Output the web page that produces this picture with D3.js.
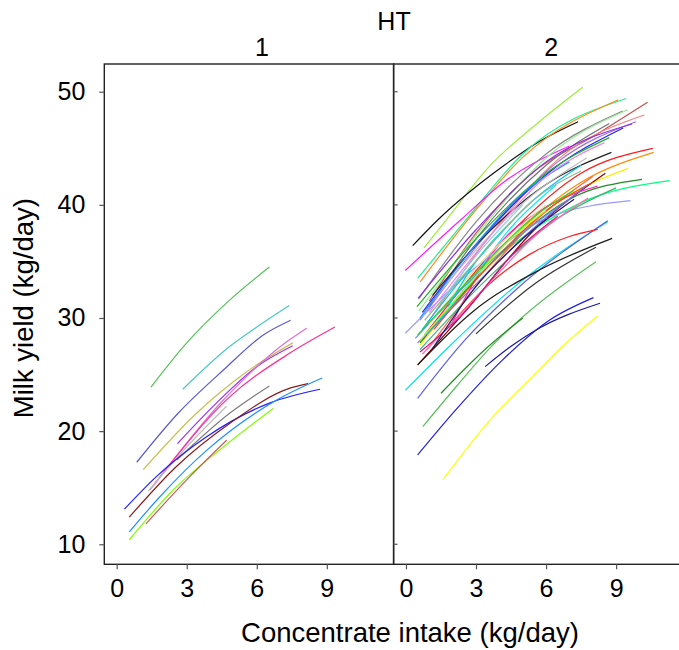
<!DOCTYPE html>
<html>
<head>
<meta charset="utf-8">
<script src="https://cdn.jsdelivr.net/npm/d3@7"></script>
<style>
  html, body { margin: 0; padding: 0; background: #fff; overflow: hidden; }
  svg { display: block; font-family: "Liberation Sans", Arial, Helvetica, sans-serif; }
</style>
</head>
<body>
<div id="chart"></div>
<script>
"use strict";

const panelNames = ["1", "2"];
const xTicks = [0, 3, 6, 9];
const yTicks = [10, 20, 30, 40, 50];

// HT = 1 : one curve per cow, [concentrate, yield]
const curves1 = [
    [[1.47, 23.9], [3.0, 27.8], [4.85, 31.6], [6.54, 34.5]],
    [[2.83, 23.7], [4.85, 27.5], [6.0, 29.2], [7.39, 31.1]],
    [[0.86, 17.25], [2.64, 21.6], [4.57, 25.4], [6.28, 28.5], [7.45, 29.8]],
    [[1.14, 16.6], [3.43, 21.6], [5.57, 25.25], [7.54, 27.8]],
    [[2.6, 18.9], [4.28, 22.5], [6.0, 25.7], [7.54, 27.55]],
    [[1.43, 14.8], [4.57, 22.75], [7.28, 27.9], [8.14, 29.1]],
    [[1.57, 15.2], [4.85, 23.05], [7.42, 26.9], [9.35, 29.2]],
    [[2.57, 17.45], [4.85, 21.6], [6.54, 24.0]],
    [[1.35, 14.7], [3.0, 18.6], [4.71, 22.2]],
    [[0.33, 13.1], [1.71, 16.0], [3.85, 19.5], [6.57, 22.5], [8.71, 23.7]],
    [[0.54, 12.4], [2.57, 16.9], [4.85, 20.7], [7.42, 23.8], [8.2, 24.2]],
    [[0.54, 11.1], [1.85, 14.2], [3.85, 18.3], [6.85, 22.75], [8.8, 24.7]],
    [[0.54, 10.4], [2.42, 14.8], [4.57, 18.6], [6.71, 22.0]],
    [[1.25, 11.8], [3.14, 16.0], [4.71, 19.2]]
];
const colors1 = [
    "#55c155", "#48c8c8", "#5a5acd", "#c8bf4c", "#9b30ff", "#da70d6", "#ff2f8f",
    "#7f7f7f", "#bebebe", "#1f1fff", "#8b1a1a", "#1e90ff", "#7fff00", "#cd5c5c"
];

// HT = 2
const curves2 = [
    [[0.77, 36.2], [1.72, 38.66], [3.57, 43.4], [5.71, 47.35], [7.57, 50.4]],
    [[0.29, 36.4], [1.36, 38.66], [4.21, 43.5], [5.71, 45.6], [7.37, 47.35]],
    [[0.5, 33.5], [2.5, 38.5], [5.0, 44.5], [9.43, 49.4]],
    [[0.61, 33.2], [2.5, 38.3], [5.0, 44.2], [9.08, 49.27]],
    [[-0.03, 34.2], [2.36, 38.7], [4.21, 42.05], [7.0, 45.2]],
    [[0.55, 31.7], [3.0, 38.5], [6.0, 44.5], [9.28, 48.3]],
    [[1.0, 31.5], [3.0, 37.5], [5.28, 42.6], [8.14, 46.2], [10.35, 49.06]],
    [[0.9, 29.5], [3.5, 37.0], [6.5, 44.0], [10.21, 47.94]],
    [[0.55, 30.6], [3.2, 37.8], [6.2, 44.5], [9.5, 48.4]],
    [[0.6, 29.8], [3.5, 37.5], [6.5, 43.8], [9.85, 47.35]],
    [[1.0, 31.0], [3.0, 37.0], [6.0, 43.5], [8.71, 47.2]],
    [[0.52, 31.74], [3.0, 37.8], [6.0, 43.8], [9.68, 47.15]],
    [[0.7, 30.5], [3.2, 37.0], [6.2, 43.0], [9.3, 46.8]],
    [[0.47, 31.0], [3.0, 37.0], [6.0, 42.8], [8.71, 45.94]],
    [[0.8, 28.5], [4.0, 36.5], [7.5, 42.8], [10.57, 45.0]],
    [[1.14, 32.0], [3.5, 37.5], [6.0, 41.8], [8.8, 44.64]],
    [[0.7, 28.0], [4.0, 36.0], [7.5, 42.0], [10.61, 44.64]],
    [[1.0, 31.15], [3.0, 36.0], [5.5, 41.0], [7.74, 44.14]],
    [[0.6, 27.6], [3.5, 34.5], [6.5, 40.2], [9.51, 43.23]],
    [[0.5, 25.85], [2.5, 30.5], [5.5, 37.8], [8.54, 42.79]],
    [[0.6, 27.8], [3.5, 34.5], [7.0, 40.5], [10.11, 42.26]],
    [[0.8, 28.5], [4.0, 35.5], [7.5, 40.2], [11.28, 42.14]],
    [[0.9, 28.5], [2.5, 32.5], [4.5, 38.0], [6.43, 41.75]],
    [[1.93, 29.4], [3.79, 36.0], [6.0, 39.8], [8.21, 41.67]],
    [[-0.03, 28.65], [3.0, 34.5], [6.0, 38.8], [9.61, 40.37]],
    [[-0.03, 23.6], [2.14, 28.06], [5.0, 33.36], [8.64, 38.5]],
    [[0.5, 22.9], [2.5, 28.0], [4.71, 32.5], [8.64, 38.6]],
    [[1.86, 29.3], [3.57, 33.0], [5.28, 35.6], [7.0, 37.2], [8.21, 37.84]],
    [[0.5, 25.85], [2.86, 30.56], [5.71, 34.24], [8.83, 37.04]],
    [[3.0, 28.6], [5.43, 32.9], [8.14, 36.25]],
    [[0.72, 20.4], [2.14, 23.9], [3.57, 27.3], [5.28, 30.6], [8.14, 34.98]],
    [[1.5, 23.35], [3.43, 27.3], [5.0, 30.0]],
    [[0.5, 17.9], [2.14, 21.9], [4.14, 26.3], [6.14, 29.8], [8.03, 31.8]],
    [[3.39, 25.7], [4.5, 27.5], [5.57, 28.94], [8.31, 31.3]],
    [[1.57, 15.68], [3.57, 20.9], [5.5, 25.0], [6.71, 27.5], [8.21, 30.18]],
    [[0.7, 29.0], [3.0, 35.0], [5.5, 40.5], [7.5, 43.5]],
    [[0.6, 30.0], [2.8, 36.0], [5.0, 41.0], [7.0, 43.8]],
    [[0.9, 27.2], [3.0, 32.8], [5.5, 38.5], [8.0, 42.5]],
    [[0.6, 27.2], [3.5, 33.5], [6.5, 38.8], [9.0, 41.5]],
    [[0.7, 26.8], [3.0, 31.8], [5.5, 37.2], [7.8, 40.6]],
    [[0.4, 28.2], [3.0, 33.8], [5.5, 38.3], [7.0, 40.5]],
    [[1.0, 29.5], [3.5, 35.5], [6.0, 40.0]],
    [[0.5, 28.5], [3.0, 34.0], [5.5, 39.0], [7.2, 41.3]],
    [[1.2, 29.0], [3.5, 34.5], [6.0, 39.5], [8.0, 42.0]],
    [[0.5, 27.8], [3.0, 33.0], [5.5, 38.0], [7.8, 41.8]],
    [[1.8, 31.0], [3.0, 35.0], [4.5, 38.5]],
    [[0.8, 29.8], [3.2, 35.5], [5.5, 40.5], [7.5, 43.0]],
    [[0.6, 27.0], [2.5, 30.5], [4.5, 35.5], [6.5, 39.0]],
    [[1.14, 27.3], [3.0, 32.8], [5.0, 37.0], [7.2, 40.5]],
    [[1.0, 30.5], [3.5, 37.0], [6.0, 42.5], [8.5, 45.5]],
    [[1.5, 31.5], [3.0, 35.5], [5.0, 40.0]],
    [[0.6, 28.0], [2.5, 32.5], [4.5, 37.0], [6.0, 39.5]]
];
const colors2 = [
    "#9aee3a", "#111111", "#1ef08c", "#ff8a1e", "#ff1cff", "#858585", "#c0504d",
    "#f08080", "#90ee90", "#a070e0", "#707070", "#8a2be2", "#2020ff", "#22b022",
    "#ff1a1a", "#222222", "#ff8c00", "#bebebe", "#ffee00", "#8b0000", "#228b22",
    "#00ff7f", "#00eeff", "#ff1cae", "#9999ff", "#00e5ee", "#5f5fdf", "#ff2020",
    "#1a1a1a", "#333333", "#5cbf5c", "#1e8c1e", "#2020e0", "#1a1a9c", "#ffff00",
    "#00bfff", "#1e90ff", "#ff6347", "#3cb371", "#ff69b4", "#6495ed", "#eedd82",
    "#32cd32", "#ff4500", "#7b68ee", "#00ced1", "#8fbc8f", "#c71585", "#191970",
    "#ee82ee", "#87ceeb", "#adff2f"
];

const panelCurves = [curves1, curves2];
const panelColors = [colors1, colors2];

const width = 679;
const height = 650;
const marginLeft = 104.3;
const marginTop = 64;
const panelW = 289.3;
const panelH = 500.3;

const x = d3.scaleLinear().domain([-0.53, 11.86]).range([0, panelW]);
const y = d3.scaleLinear().domain([8.23, 52.45]).range([panelH, 0]);

const line = d3.line()
    .x((d) => x(d[0]))
    .y((d) => y(d[1]))
    .curve(d3.curveMonotoneX);

const svg = d3.select("#chart")
    .append("svg")
    .attr("width", width)
    .attr("height", height);

panelNames.forEach((name, i) => {
    const g = svg.append("g")
        .attr("transform", `translate(${marginLeft + i * panelW},${marginTop})`);

    g.append("g")
        .selectAll("path")
        .data(panelCurves[i])
        .join("path")
        .attr("d", line)
        .attr("fill", "none")
        .attr("stroke", (d, j) => panelColors[i][j])
        .attr("stroke-width", 1.2);

    g.append("rect")
        .attr("width", panelW)
        .attr("height", panelH)
        .attr("fill", "none")
        .attr("stroke", "#222")
        .attr("stroke-width", 1.4);

    // bottom axis
    const xAxis = g.append("g")
        .attr("transform", `translate(0,${panelH})`)
        .call(d3.axisBottom(x).tickValues(xTicks).tickSize(5).tickPadding(10));
    xAxis.select(".domain").remove();
    xAxis.selectAll("line").attr("stroke", "#555").attr("stroke-width", 1.2);
    xAxis.selectAll("text").attr("font-size", 25).attr("fill", "#000")
        .attr("font-family", "Liberation Sans, Arial, sans-serif");

    svg.append("text")
        .attr("x", marginLeft + i * panelW + panelW / 2 + 13)
        .attr("y", 56)
        .attr("text-anchor", "middle")
        .attr("font-size", 25)
        .text(name);
});

// left axis of panel 1
const yAxis = svg.append("g")
    .attr("transform", `translate(${marginLeft},${marginTop})`)
    .call(d3.axisLeft(y).tickValues(yTicks).tickSize(5).tickPadding(14));
yAxis.select(".domain").remove();
yAxis.selectAll("line").attr("stroke", "#555").attr("stroke-width", 1.2);
yAxis.selectAll("text").attr("font-size", 25).attr("fill", "#000")
    .attr("font-family", "Liberation Sans, Arial, sans-serif");

// small ticks on the shared border
svg.append("g")
    .attr("transform", `translate(${marginLeft + panelW},${marginTop})`)
    .selectAll("line")
    .data(yTicks)
    .join("line")
    .attr("x1", 0)
    .attr("x2", 4)
    .attr("y1", (d) => y(d))
    .attr("y2", (d) => y(d))
    .attr("stroke", "#555")
    .attr("stroke-width", 1.2);

svg.append("text")
    .attr("x", 394)
    .attr("y", 30)
    .attr("text-anchor", "middle")
    .attr("font-size", 25)
    .text("HT");

svg.append("text")
    .attr("x", 410)
    .attr("y", 642)
    .attr("text-anchor", "middle")
    .attr("font-size", 27.5)
    .text("Concentrate intake (kg/day)");

svg.append("text")
    .attr("transform", `translate(33,${marginTop + panelH / 2 - 6}) rotate(-90)`)
    .attr("text-anchor", "middle")
    .attr("font-size", 27.5)
    .text("Milk yield (kg/day)");
</script>
</body>
</html>
